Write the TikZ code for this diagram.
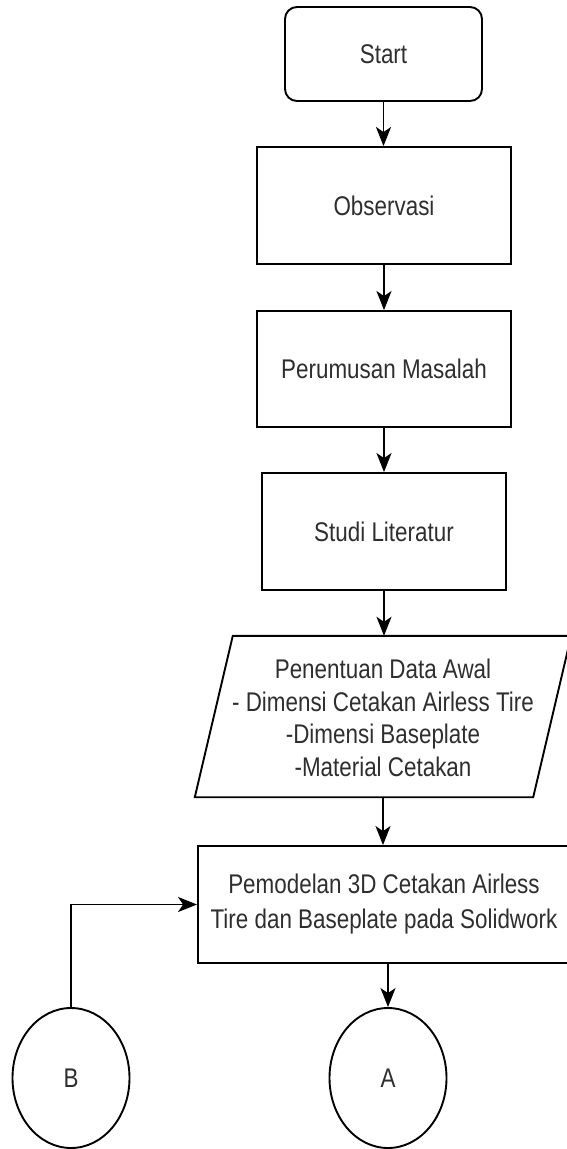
\documentclass[tikz,border=0pt]{standalone}
\usepackage{fontspec}
\setmainfont{Liberation Sans}[FakeStretch=0.83]
\usetikzlibrary{shapes.geometric,arrows.meta}
\begin{document}
\begin{tikzpicture}[x=1pt,y=-1pt,
  every node/.style={font=\fontsize{27}{33}\selectfont, text=black!82},
  box/.style={draw, line width=1.9pt, inner sep=0pt, align=center},
  flow/.style={line width=1.9pt, -{Stealth[length=19pt,width=15pt,inset=5pt]}},
  conn/.style={draw, ellipse, line width=1.9pt, minimum width=117pt,
               minimum height=140pt, inner sep=0pt}]
\useasboundingbox (0,0) rectangle (567,1149);
\clip (0,0) rectangle (567,1149);

% process steps
\node[box, rounded corners=12pt, minimum width=197, minimum height=94]
  (start) at (383.5,54) {Start};
\node[box, minimum width=254, minimum height=117] (obs) at (384,205.5) {Observasi};
\node[box, minimum width=254, minimum height=116] (rumus) at (384,369) {Perumusan Masalah};
\node[box, minimum width=244, minimum height=117] (studi) at (384,531.5) {Studi Literatur};

% input/output step (parallelogram drawn around its text node)
\node[inner sep=0pt, align=center, minimum width=338, minimum height=161,
      font=\fontsize{27}{32.5}\selectfont]
  (data) at (383,718) {Penentuan Data Awal\\- Dimensi Cetakan Airless Tire\\-Dimensi Baseplate\\-Material Cetakan};
\draw[line width=1.9pt] ([xshift=19,yshift=1.5]data.north west) -- ([xshift=19,yshift=1.5]data.north east)
  -- ([xshift=-19,yshift=1.5]data.south east) -- ([xshift=-19,yshift=1.5]data.south west) -- cycle;

\node[box, minimum width=372, minimum height=117, font=\fontsize{27}{35}\selectfont]
  (model) at (384,904.5) {Pemodelan 3D Cetakan Airless\\Tire dan Baseplate pada Solidwork};

% off-page connectors
\node[conn] (A) at (388,1078) {A};
\node[conn] (B) at (71,1078) {B};

% flow lines
\draw[flow] (start.south) -- (start.south |- obs.north);
\draw[flow] (obs.south) -- (obs.south |- rumus.north);
\draw[flow] (rumus.south) -- (rumus.south |- studi.north);
\draw[flow] (studi.south) -- ([yshift=1.5]studi.south |- data.north);
\draw[flow] ([yshift=1.5]data.south) -- (data.south |- model.north);
\draw[flow] (A.north |- model.south) -- (A.north);
\draw[flow] (B.north) |- (model.west);
\end{tikzpicture}
\end{document}
